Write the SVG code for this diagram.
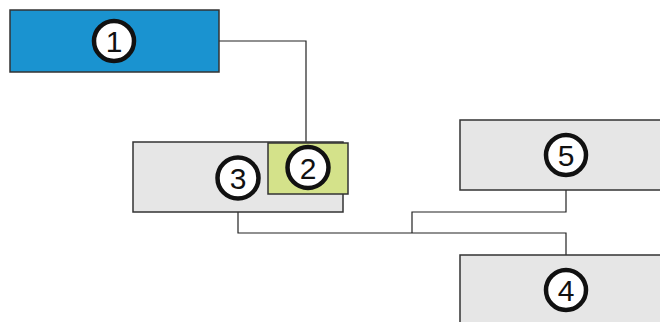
<svg xmlns="http://www.w3.org/2000/svg" width="660" height="322" viewBox="0 0 660 322">
<style>
.box{stroke:#333;stroke-width:1.5}
.grey{fill:#e6e6e6}
.c{fill:#fff;stroke:#111;stroke-width:4.5}
.t{font-family:"Liberation Sans",Arial,sans-serif;font-size:30px;fill:#111;text-anchor:middle}
.conn{fill:none;stroke:#222;stroke-width:1.2}
</style>
<rect width="660" height="322" fill="#fff"/>
<g id="connectors">
<polyline class="conn" points="219,41 306,41 306,143"/>
<polyline class="conn" points="238,212 238,233 566,233 566,255"/>
<polyline class="conn" points="566,190 566,212 412,212 412,233"/>
</g>
<g id="node1">
<rect class="box" x="10" y="10" width="209" height="62" fill="#1a93d0"/>
<circle class="c" cx="114" cy="41" r="20"/>
<text class="t" x="114" y="52">1</text>
</g>
<g id="node3">
<rect class="box grey" x="133" y="142" width="210" height="70"/>
<circle class="c" cx="238" cy="178" r="20.5"/>
<text class="t" x="238" y="189">3</text>
</g>
<g id="node2">
<rect class="box" x="268" y="143" width="80" height="51" fill="#d4e28a"/>
<circle class="c" cx="308" cy="167.5" r="20.5"/>
<text class="t" x="308" y="178.5">2</text>
</g>
<g id="node5">
<rect class="box grey" x="460" y="120" width="210" height="70"/>
<circle class="c" cx="566" cy="155" r="20"/>
<text class="t" x="566" y="166">5</text>
</g>
<g id="node4">
<rect class="box grey" x="460" y="255" width="210" height="80"/>
<circle class="c" cx="566" cy="290" r="20"/>
<text class="t" x="566" y="301">4</text>
</g>
</svg>
